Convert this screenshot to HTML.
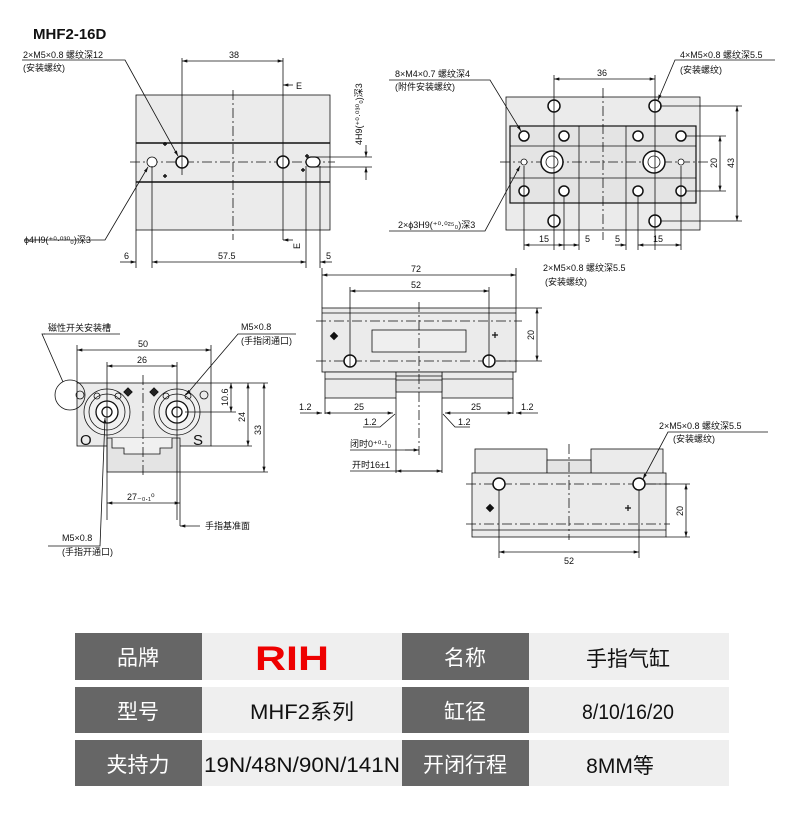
<!DOCTYPE html>
<html><head><meta charset="utf-8"><style>
html,body{margin:0;padding:0;background:#fff;width:800px;height:839px;overflow:hidden}
svg{display:block}
text{font-family:"Liberation Sans","Noto Sans CJK SC",sans-serif;fill:#111}
.d{font-size:9px}
.t{font-family:"Liberation Sans","Noto Sans CJK SC",sans-serif;font-size:21px}
</style></head><body>
<svg width="800" height="839" viewBox="0 0 800 839" xmlns="http://www.w3.org/2000/svg">
<defs>
<marker id="a" viewBox="0 0 10 6" refX="10" refY="3" markerWidth="7" markerHeight="4" orient="auto-start-reverse"><path d="M0,0L10,3L0,6z" fill="#111"/></marker>
</defs>
<g stroke="#111" stroke-width="0.8" fill="none">
<rect x="136" y="95" width="194" height="135" fill="#ebebeb"/>
<line x1="136" y1="143" x2="330" y2="143" stroke-width="1.6"/>
<line x1="136" y1="182" x2="330" y2="182" stroke-width="1.6"/>
<line x1="130" y1="162" x2="335" y2="162" stroke-dasharray="10,3,2,3"/>
<line x1="233" y1="90" x2="233" y2="240" stroke-dasharray="10,3,2,3"/>
<circle cx="182" cy="162" r="6" stroke-width="1.5" fill="#fff"/>
<circle cx="283" cy="162" r="6" stroke-width="1.5" fill="#fff"/>
<circle cx="152" cy="162" r="5" fill="#fff"/>
<rect x="306" y="157" width="14" height="10" rx="5" stroke-width="1.3" fill="#fff"/>
<line x1="182" y1="58" x2="182" y2="175"/><line x1="283" y1="58" x2="283" y2="240"/>
<line x1="182" y1="61" x2="283" y2="61" marker-start="url(#a)" marker-end="url(#a)"/>
<line x1="283" y1="85" x2="293" y2="85" marker-start="url(#a)"/>
<line x1="283" y1="240" x2="293" y2="240" marker-start="url(#a)"/>
<line x1="136" y1="230" x2="136" y2="268"/><line x1="152" y1="166" x2="152" y2="268"/>
<line x1="306" y1="166" x2="306" y2="268"/><line x1="320" y1="166" x2="320" y2="268"/>
<line x1="120" y1="262" x2="136" y2="262" marker-end="url(#a)"/>
<line x1="152" y1="262" x2="306" y2="262" marker-start="url(#a)" marker-end="url(#a)"/>
<line x1="320" y1="262" x2="332" y2="262" marker-start="url(#a)"/>
<line x1="313" y1="157" x2="372" y2="157"/><line x1="313" y1="167" x2="372" y2="167"/>
<line x1="366" y1="145" x2="366" y2="157" marker-end="url(#a)"/><line x1="366" y1="180" x2="366" y2="167" marker-end="url(#a)"/>
<polyline points="22,60 125,60 178,156" marker-end="url(#a)"/>
<polyline points="24,240 105,240 148,167" marker-end="url(#a)"/>
<rect x="506" y="97" width="194" height="133" fill="#ebebeb"/>
<rect x="510" y="126" width="186" height="77" fill="#e4e4e4" stroke-width="1.2"/>
<line x1="579" y1="126" x2="579" y2="203"/><line x1="626" y1="126" x2="626" y2="203"/>
<line x1="510" y1="146" x2="696" y2="146"/><line x1="510" y1="178" x2="696" y2="178"/>
<line x1="500" y1="162" x2="710" y2="162" stroke-dasharray="10,3,2,3"/>
<line x1="603" y1="88" x2="603" y2="240" stroke-dasharray="10,3,2,3"/>
<g stroke-width="1.5" fill="#fff">
<circle cx="554" cy="106" r="6"/><circle cx="655" cy="106" r="6"/>
<circle cx="554" cy="221" r="6"/><circle cx="655" cy="221" r="6"/>
<circle cx="524" cy="136" r="5"/><circle cx="564" cy="136" r="5"/><circle cx="638" cy="136" r="5"/><circle cx="681" cy="136" r="5"/>
<circle cx="524" cy="191" r="5"/><circle cx="564" cy="191" r="5"/><circle cx="638" cy="191" r="5"/><circle cx="681" cy="191" r="5"/>
<circle cx="552" cy="162" r="11"/><circle cx="654" cy="162" r="11"/>
</g>
<circle cx="552" cy="162" r="6"/><circle cx="654" cy="162" r="6"/>
<circle cx="524" cy="162" r="3" fill="#fff"/><circle cx="681" cy="162" r="3" fill="#fff"/>
<line x1="554" y1="75" x2="554" y2="250"/><line x1="655" y1="75" x2="655" y2="250"/>
<line x1="554" y1="79" x2="655" y2="79" marker-start="url(#a)" marker-end="url(#a)"/>
<line x1="524" y1="166" x2="524" y2="250"/><line x1="564" y1="196" x2="564" y2="250"/>
<line x1="579" y1="203" x2="579" y2="250"/><line x1="626" y1="203" x2="626" y2="250"/>
<line x1="638" y1="196" x2="638" y2="250"/><line x1="681" y1="166" x2="681" y2="250"/>
<line x1="524" y1="245" x2="564" y2="245" marker-start="url(#a)" marker-end="url(#a)"/>
<line x1="564" y1="245" x2="579" y2="245" marker-end="url(#a)"/>
<line x1="615" y1="245" x2="626" y2="245" marker-end="url(#a)"/>
<line x1="638" y1="245" x2="681" y2="245" marker-start="url(#a)" marker-end="url(#a)"/>
<line x1="686" y1="136" x2="726" y2="136"/><line x1="686" y1="191" x2="726" y2="191"/>
<line x1="720" y1="136" x2="720" y2="191" marker-start="url(#a)" marker-end="url(#a)"/>
<line x1="660" y1="106" x2="742" y2="106"/><line x1="660" y1="221" x2="742" y2="221"/>
<line x1="737" y1="106" x2="737" y2="221" marker-start="url(#a)" marker-end="url(#a)"/>
<polyline points="389,80 490,80 521,131" marker-end="url(#a)"/>
<polyline points="775,60 675,60 658,100" marker-end="url(#a)"/>
<polyline points="389,231 485,231 520,166" marker-end="url(#a)"/>
<rect x="77" y="383" width="134" height="63" fill="#ebebeb"/>
<rect x="107" y="438" width="73" height="34" fill="#e4e4e4"/>
<path d="M112,438 v10 h12 v6 h36 v-6 h12 v-10" fill="#f0f0f0"/>
<circle cx="107" cy="412" r="23" fill="#f0f0f0"/><circle cx="107" cy="412" r="18"/>
<circle cx="107" cy="412" r="11" fill="#fff" stroke-width="1.3"/><circle cx="107" cy="412" r="5" stroke-width="1.3"/>
<circle cx="177" cy="412" r="23" fill="#f0f0f0"/><circle cx="177" cy="412" r="18"/>
<circle cx="177" cy="412" r="11" fill="#fff" stroke-width="1.3"/><circle cx="177" cy="412" r="5" stroke-width="1.3"/>
<circle cx="97" cy="396" r="3"/><circle cx="118" cy="396" r="3"/><circle cx="166" cy="396" r="3"/><circle cx="188" cy="396" r="3"/>
<circle cx="70" cy="395" r="15"/>
<circle cx="80" cy="395" r="4"/><circle cx="204" cy="395" r="4"/>
<rect x="125" y="389" width="6" height="6" transform="rotate(45 128 392)" fill="#222"/>
<rect x="151" y="389" width="6" height="6" transform="rotate(45 154 392)" fill="#222"/>
<line x1="143" y1="375" x2="143" y2="478" stroke-dasharray="10,3,2,3"/>
<line x1="77" y1="345" x2="77" y2="383"/><line x1="211" y1="345" x2="211" y2="383"/>
<line x1="77" y1="350" x2="211" y2="350" marker-start="url(#a)" marker-end="url(#a)"/>
<line x1="107" y1="362" x2="107" y2="520"/><line x1="177" y1="362" x2="177" y2="520"/>
<line x1="107" y1="366" x2="177" y2="366" marker-start="url(#a)" marker-end="url(#a)"/>
<line x1="180" y1="472" x2="180" y2="526"/>
<line x1="107" y1="503" x2="180" y2="503" marker-start="url(#a)" marker-end="url(#a)"/>
<line x1="180" y1="526" x2="200" y2="526" marker-start="url(#a)"/>
<line x1="211" y1="383" x2="268" y2="383"/><line x1="185" y1="412" x2="236" y2="412"/>
<line x1="211" y1="446" x2="252" y2="446"/><line x1="180" y1="472" x2="268" y2="472"/>
<line x1="231" y1="383" x2="231" y2="412" marker-start="url(#a)" marker-end="url(#a)"/>
<line x1="248" y1="383" x2="248" y2="446" marker-start="url(#a)" marker-end="url(#a)"/>
<line x1="264" y1="383" x2="264" y2="472" marker-start="url(#a)" marker-end="url(#a)"/>
<polyline points="45,334 42,334 63,382"/><line x1="44" y1="334" x2="120" y2="334"/>
<polyline points="296,334 238,334 186,395" marker-end="url(#a)"/>
<polyline points="48,546 100,546 105,418" marker-end="url(#a)"/>
<rect x="322" y="308" width="194" height="64" fill="#ebebeb"/>
<line x1="322" y1="313" x2="516" y2="313"/>
<rect x="372" y="330" width="94" height="22" fill="#efefef"/>
<rect x="325" y="372" width="71" height="26" fill="#ebebeb"/>
<rect x="442" y="372" width="71" height="26" fill="#ebebeb"/>
<line x1="325" y1="379" x2="396" y2="379"/><line x1="442" y1="379" x2="513" y2="379"/>
<rect x="396" y="372" width="46" height="20" fill="#e4e4e4"/>
<line x1="396" y1="376" x2="442" y2="376"/><line x1="396" y1="380" x2="442" y2="380"/>
<line x1="316" y1="321" x2="522" y2="321" stroke-dasharray="10,3,2,3"/>
<line x1="316" y1="361" x2="518" y2="361" stroke-dasharray="10,3,2,3"/>
<line x1="419" y1="302" x2="419" y2="455" stroke-dasharray="10,3,2,3"/>
<circle cx="350" cy="361" r="6" stroke-width="1.5" fill="#fff"/>
<circle cx="489" cy="361" r="6" stroke-width="1.5" fill="#fff"/>
<line x1="322" y1="268" x2="322" y2="308"/><line x1="516" y1="268" x2="516" y2="308"/>
<line x1="322" y1="275" x2="516" y2="275" marker-start="url(#a)" marker-end="url(#a)"/>
<line x1="350" y1="287" x2="350" y2="367"/><line x1="489" y1="287" x2="489" y2="367"/>
<line x1="350" y1="291" x2="489" y2="291" marker-start="url(#a)" marker-end="url(#a)"/>
<line x1="516" y1="308" x2="542" y2="308"/><line x1="496" y1="361" x2="542" y2="361"/>
<line x1="537" y1="308" x2="537" y2="361" marker-start="url(#a)" marker-end="url(#a)"/>
<line x1="325" y1="398" x2="325" y2="414"/><line x1="396" y1="398" x2="396" y2="473"/>
<line x1="442" y1="398" x2="442" y2="473"/><line x1="513" y1="398" x2="513" y2="414"/>
<line x1="300" y1="413" x2="322" y2="413" marker-end="url(#a)"/>
<line x1="325" y1="413" x2="393" y2="413" marker-start="url(#a)" marker-end="url(#a)"/>
<line x1="445" y1="413" x2="513" y2="413" marker-start="url(#a)" marker-end="url(#a)"/>
<line x1="538" y1="413" x2="516" y2="413" marker-end="url(#a)"/>
<polyline points="363,427 380,427 395,414"/><polyline points="470,427 455,427 443,414"/>
<line x1="350" y1="450" x2="419" y2="450"/><line x1="405" y1="450" x2="419" y2="450" marker-end="url(#a)"/>
<line x1="350" y1="471" x2="442" y2="471"/>
<line x1="396" y1="471" x2="442" y2="471" marker-start="url(#a)" marker-end="url(#a)"/>
<rect x="475" y="449" width="72" height="25" fill="#ebebeb"/>
<rect x="591" y="449" width="72" height="25" fill="#ebebeb"/>
<rect x="547" y="460" width="44" height="14" fill="#e4e4e4"/>
<rect x="472" y="473" width="194" height="64" fill="#ebebeb"/>
<line x1="472" y1="530" x2="666" y2="530"/>
<line x1="466" y1="484" x2="670" y2="484" stroke-dasharray="10,3,2,3"/>
<line x1="466" y1="524" x2="670" y2="524" stroke-dasharray="10,3,2,3"/>
<line x1="569" y1="444" x2="569" y2="540" stroke-dasharray="10,3,2,3"/>
<circle cx="499" cy="484" r="6" stroke-width="1.5" fill="#fff"/>
<circle cx="639" cy="484" r="6" stroke-width="1.5" fill="#fff"/>
<line x1="499" y1="490" x2="499" y2="558"/><line x1="639" y1="490" x2="639" y2="558"/>
<line x1="499" y1="552" x2="639" y2="552" marker-start="url(#a)" marker-end="url(#a)"/>
<line x1="645" y1="484" x2="690" y2="484"/><line x1="666" y1="537" x2="690" y2="537"/>
<line x1="686" y1="484" x2="686" y2="537" marker-start="url(#a)" marker-end="url(#a)"/>
<polyline points="768,432 668,432 643,479" marker-end="url(#a)"/>
</g>
<g fill="#111">
<path d="M163,144h4M165,142v4M163,176h4M165,174v4M305,156h4M307,154v4M301,170h4M303,168v4" stroke="#111" stroke-width="1.4"/>
<rect x="331" y="333" width="6" height="6" transform="rotate(45 334 336)"/>
<rect x="487" y="505" width="6" height="6" transform="rotate(45 490 508)"/>
<path d="M492,335h6M495,332v6M625,508h6M628,505v6" stroke="#111" stroke-width="1.2"/>
</g>
<text x="33" y="39" style="font-size:15px;font-weight:bold">MHF2-16D</text>
<g class="d">
<text x="23" y="58">2×M5×0.8 螺纹深12</text><text x="23" y="71">(安装螺纹)</text>
<text x="229" y="58">38</text><text x="296" y="89">E</text><text x="292" y="249" transform="rotate(-90 296 245)">E</text>
<text x="24" y="243">ϕ4H9(⁺⁰·⁰³⁰₀)深3</text>
<text x="124" y="259">6</text><text x="218" y="259">57.5</text><text x="326" y="259">5</text>
<text x="362" y="145" transform="rotate(-90 362 145)">4H9(⁺⁰·⁰³⁰₀)深3</text>
<text x="395" y="77">8×M4×0.7 螺纹深4</text><text x="395" y="90">(附件安装螺纹)</text>
<text x="680" y="58">4×M5×0.8 螺纹深5.5</text><text x="680" y="73">(安装螺纹)</text>
<text x="597" y="76">36</text>
<text x="398" y="228">2×ϕ3H9(⁺⁰·⁰²⁵₀)深3</text>
<text x="539" y="242">15</text><text x="585" y="242">5</text><text x="615" y="242">5</text><text x="653" y="242">15</text>
<text x="717" y="168" transform="rotate(-90 717 168)">20</text>
<text x="734" y="168" transform="rotate(-90 734 168)">43</text>
<text x="411" y="272">72</text><text x="411" y="288">52</text>
<text x="543" y="271">2×M5×0.8 螺纹深5.5</text><text x="545" y="285">(安装螺纹)</text>
<text x="534" y="340" transform="rotate(-90 534 340)">20</text>
<text x="299" y="410">1.2</text><text x="354" y="410">25</text><text x="471" y="410">25</text><text x="521" y="410">1.2</text>
<text x="364" y="425">1.2</text><text x="458" y="425">1.2</text>
<text x="350" y="447">闭时0⁺⁰·¹₀</text><text x="352" y="468">开时16±1</text>
<text x="48" y="331">磁性开关安装槽</text>
<text x="241" y="330">M5×0.8</text><text x="241" y="344">(手指闭通口)</text>
<text x="138" y="347">50</text><text x="137" y="363">26</text>
<text x="228" y="406" transform="rotate(-90 228 406)">10.6</text>
<text x="245" y="422" transform="rotate(-90 245 422)">24</text>
<text x="261" y="435" transform="rotate(-90 261 435)">33</text>
<text x="127" y="500">27₋₀.₁⁰</text>
<text x="205" y="529">手指基准面</text>
<text x="62" y="541">M5×0.8</text><text x="62" y="555">(手指开通口)</text>
<text x="659" y="429">2×M5×0.8 螺纹深5.5</text><text x="673" y="442">(安装螺纹)</text>
<text x="564" y="564">52</text>
<text x="683" y="516" transform="rotate(-90 683 516)">20</text>
</g>
<text x="80" y="445" style="font-size:15px">O</text><text x="193" y="445" style="font-size:15px">S</text>
<g>
<rect x="75" y="633" width="127" height="47" fill="#666"/><rect x="202" y="633" width="200" height="47" fill="#efefef"/>
<rect x="402" y="633" width="127" height="47" fill="#666"/><rect x="529" y="633" width="200" height="47" fill="#efefef"/>
<rect x="75" y="687" width="127" height="46" fill="#666"/><rect x="202" y="687" width="200" height="46" fill="#efefef"/>
<rect x="402" y="687" width="127" height="46" fill="#666"/><rect x="529" y="687" width="200" height="46" fill="#efefef"/>
<rect x="75" y="740" width="127" height="46" fill="#666"/><rect x="202" y="740" width="200" height="46" fill="#efefef"/>
<rect x="402" y="740" width="127" height="46" fill="#666"/><rect x="529" y="740" width="200" height="46" fill="#efefef"/>
</g>
<g class="t" text-anchor="middle">
<text x="138" y="665" style="fill:#fff">品牌</text>
<text x="292" y="670" style="fill:#e00;font-size:34px;font-weight:bold" textLength="74" lengthAdjust="spacingAndGlyphs">RIH</text>
<text x="465" y="665" style="fill:#fff">名称</text><text x="628" y="666">手指气缸</text>
<text x="138" y="719" style="fill:#fff">型号</text><text x="302" y="719" textLength="104" lengthAdjust="spacingAndGlyphs">MHF2系列</text>
<text x="465" y="719" style="fill:#fff">缸径</text><text x="628" y="719" textLength="92" lengthAdjust="spacingAndGlyphs">8/10/16/20</text>
<text x="138" y="772" style="fill:#fff">夹持力</text><text x="302" y="772" textLength="196" lengthAdjust="spacingAndGlyphs">19N/48N/90N/141N</text>
<text x="465" y="772" style="fill:#fff">开闭行程</text><text x="620" y="773">8MM等</text>
</g>
</svg>
</body></html>
